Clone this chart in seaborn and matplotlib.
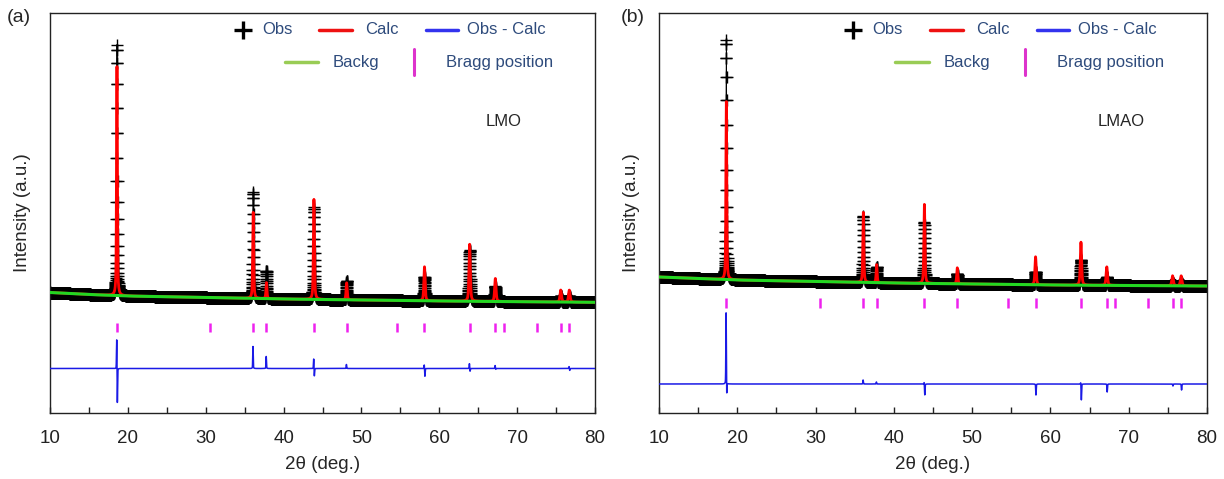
import numpy as np
import matplotlib
matplotlib.use('Agg')
import matplotlib.pyplot as plt
import seaborn as sns
from matplotlib.ticker import MultipleLocator

# Bragg reflections of the spinel phase (2theta, deg) - same in both panels
bragg_pos = [18.6, 30.6, 36.1, 37.8, 43.9, 48.1, 54.6, 58.1, 63.9, 67.2, 68.3, 72.5, 75.6, 76.7]
peak_fwhm = [0.13, 0.14, 0.15, 0.15, 0.16, 0.17, 0.18, 0.19, 0.20, 0.21, 0.21, 0.22, 0.23, 0.23]

# background anchor points
bkg_x = [10, 15, 20, 30, 40, 50, 60, 70, 80]
bkg_a = [120.5, 118.5, 117, 115.5, 114, 113, 112, 111.3, 110.7]
bkg_b = [136, 134.5, 133, 131.5, 130, 129, 128, 127.5, 127]

# peak heights above background, one per Bragg position
obs_a = [251, 0, 106, 28, 92, 19, 0, 24, 51, 15, 0, 0, 6, 6]
calc_a = [229, 0, 86, 16, 100, 17, 0, 34, 57, 23, 0, 0, 12, 12]
obs_b = [240, 0, 66, 16, 61, 10, 0, 13, 25, 8, 0, 0, 3, 3]
calc_b = [178, 0, 70, 18, 79, 16, 0, 28, 43, 18.5, 0, 0, 10, 10]

# Obs - Calc curve: spike up / spike down at each reflection
diff_up_a = [31, 0, 22, 12, 10, 4, 0, 4, 5, 3, 0, 0, 0, 2]
diff_dn_a = [36, 0, 0, 0, 8, 0, 0, 8, 3, 1, 0, 0, 0, 2]
diff_up_b = [72, 0, 4, 2, 2, 0, 0, 0, 2, 0, 0, 0, 0, 0]
diff_dn_b = [13, 0, 0, 0, 11, 0, 0, 11, 16, 8, 0, 0, 2, 6]
diff_base_a = 44.5
diff_base_b = 29

two_theta = np.round(np.arange(10, 80.0001, 0.01), 2)

txt_col = '#2e4b7c'


def profile(x, c, fwhm, eta=0.5):
    u = (x - c) / fwhm
    return eta / (1 + 4 * u**2) + (1 - eta) * np.exp(-4 * np.log(2) * u**2)


def pattern(heights, bkg):
    y = np.interp(two_theta, bkg_x, bkg)
    for c, h, w in zip(bragg_pos, heights, peak_fwhm):
        if h:
            y = y + h * profile(two_theta, c, w)
    return y


def diff_curve(up, dn, base):
    y = np.full_like(two_theta, base, dtype=float)
    for c, hu, hd in zip(bragg_pos, up, dn):
        if hu:
            y = y + hu * profile(two_theta, c - 0.03, 0.07, 0.3)
        if hd:
            y = y - hd * profile(two_theta, c + 0.05, 0.07, 0.3)
    return y


def draw_legend(ax):
    tr = ax.transAxes
    r1, r2 = 0.9575, 0.8775
    fs = 12
    ax.plot([0.354], [r1], marker='+', ms=13, mew=2.4, color='black', transform=tr, clip_on=False)
    ax.text(0.389, r1, 'Obs', va='center', ha='left', color=txt_col, fontsize=fs, transform=tr)
    ax.plot([0.494, 0.554], [r1, r1], color='#ee1111', lw=2.5, transform=tr)
    ax.text(0.578, r1, 'Calc', va='center', ha='left', color=txt_col, fontsize=fs, transform=tr)
    ax.plot([0.690, 0.749], [r1, r1], color='#3333ee', lw=2.5, transform=tr)
    ax.text(0.765, r1, 'Obs - Calc', va='center', ha='left', color=txt_col, fontsize=fs, transform=tr)
    ax.plot([0.431, 0.492], [r2, r2], color='#99cc55', lw=2.5, transform=tr)
    ax.text(0.519, r2, 'Backg', va='center', ha='left', color=txt_col, fontsize=fs, transform=tr)
    ax.plot([0.668, 0.668], [r2 - 0.032, r2 + 0.032], color='#dd33cc', lw=2.2, transform=tr)
    ax.text(0.727, r2, 'Bragg position', va='center', ha='left', color=txt_col, fontsize=fs, transform=tr)


def draw_panel(ax, obs_h, calc_h, bkg, up, dn, base, tick_lo, tick_hi, name):
    obs = pattern(obs_h, bkg)
    calc = pattern(calc_h, bkg)
    back = np.interp(two_theta, bkg_x, bkg)
    diff = diff_curve(up, dn, base)

    sns.lineplot(x=two_theta, y=obs, ax=ax, color='black', lw=0.6, marker='+', ms=8.5,
                 mew=1.0, mec='black', estimator=None, sort=False, zorder=2)
    sns.lineplot(x=two_theta, y=calc, ax=ax, color='#ff0000', lw=2.0, estimator=None, zorder=3)
    sns.lineplot(x=two_theta, y=back, ax=ax, color='#22d822', lw=2.2, estimator=None, zorder=4)
    sns.lineplot(x=two_theta, y=diff, ax=ax, color='#1a1ae6', lw=1.1, estimator=None, zorder=4)
    ax.vlines(bragg_pos, tick_lo, tick_hi, color='#ee22ee', lw=1.8, zorder=4)

    ax.set_xlim(10, 80)
    ax.set_ylim(0, 400)
    ax.xaxis.set_major_locator(MultipleLocator(10))
    ax.xaxis.set_minor_locator(MultipleLocator(5))
    ax.tick_params(axis='x', which='both', direction='in', length=4, width=1,
                   labelsize=13.5, pad=12, colors='#222222')
    ax.set_yticks([])
    for s in ax.spines.values():
        s.set_visible(True)
        s.set_linewidth(1.0)
        s.set_color('#222222')
    ax.set_xlabel('2\u03b8 (deg.)', fontsize=13.5, labelpad=7)
    ax.set_ylabel('Intensity (a.u.)', fontsize=13.5)
    ax.yaxis.set_label_coords(-0.034, 0.5)
    ax.text(0.80, 0.7275, name, transform=ax.transAxes, fontsize=12, va='center', ha='left')
    draw_legend(ax)


sns.set_theme(style='ticks')
plt.rcParams['font.family'] = ['Liberation Sans', 'DejaVu Sans']

fig = plt.figure(figsize=(12.24, 4.79), dpi=100)
ax_a = fig.add_axes([50 / 1224, 66 / 479, 545 / 1224, 400 / 479])
ax_b = fig.add_axes([659 / 1224, 66 / 479, 548 / 1224, 400 / 479])

draw_panel(ax_a, obs_a, calc_a, bkg_a, diff_up_a, diff_dn_a, diff_base_a, 81, 90, 'LMO')
draw_panel(ax_b, obs_b, calc_b, bkg_b, diff_up_b, diff_dn_b, diff_base_b, 105, 115, 'LMAO')

fig.text(19 / 1224, 1 - 18 / 479, '(a)', fontsize=14, ha='center', va='center')
fig.text(633 / 1224, 1 - 18 / 479, '(b)', fontsize=14, ha='center', va='center')

fig.savefig('out.png', dpi=100, facecolor='white')
